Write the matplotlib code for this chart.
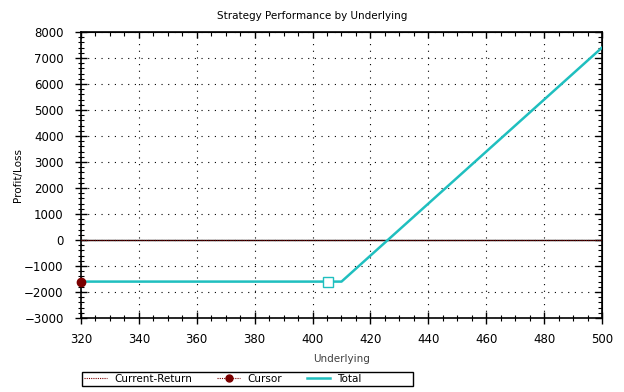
import numpy as np
import matplotlib.pyplot as plt
from matplotlib.ticker import MultipleLocator, NullFormatter
from matplotlib.lines import Line2D
from matplotlib.patches import Rectangle

# ── Data ──────────────────────────────────────────────
underlying     = [320, 410, 500]
total_pl       = [-1600, -1600, 7400]
current_x      = [320, 500]
current_return = [0, 0]
cursor_x       = [320]
cursor_y       = [-1600]
price_x        = [405.5]
price_y        = [-1600]

TEAL = "#1fbfbf"
DARK_RED = "#7a0000"

plt.rcParams["font.family"] = ["DejaVu Sans"]

fig = plt.figure(figsize=(6.24, 3.92), dpi=100)
ax = fig.add_axes([81 / 624, 1 - 318 / 392, 521 / 624, 286 / 392])

ax.set_xlim(320, 500)
ax.set_ylim(-3000, 8000)
ax.xaxis.set_major_locator(MultipleLocator(20))
ax.xaxis.set_minor_locator(MultipleLocator(5))
ax.yaxis.set_major_locator(MultipleLocator(1000))
ax.yaxis.set_minor_locator(MultipleLocator(200))

ax.grid(True, which="major", color="black", linestyle=(0, (1, 5)), linewidth=0.8)

ax.axhline(0, color="black", linewidth=1.0, zorder=2)
ax.plot(current_x, current_return, color=DARK_RED, linestyle=(0, (1, 1)),
        linewidth=0.8, zorder=3)
ax.plot(underlying, total_pl, color=TEAL, linewidth=1.8, zorder=4)
ax.plot(price_x, price_y, marker="s", markersize=6.5, markerfacecolor="white",
        markeredgecolor=TEAL, markeredgewidth=1.0, linestyle="none", zorder=5)
ax.plot(cursor_x, cursor_y, marker="o", markersize=6, color=DARK_RED,
        linestyle="none", zorder=6, clip_on=False)

for side in ["left", "bottom", "top", "right"]:
    ax.spines[side].set_linewidth(1.2)

# bottom / left: ticks crossing the axis, labelled
ax.tick_params(axis="both", which="major", direction="inout", length=8,
               width=1.0, labelsize=8.5)
ax.tick_params(axis="both", which="minor", direction="inout", length=5,
               width=0.8)
ax.tick_params(axis="x", which="major", pad=6.5)
ax.tick_params(axis="y", which="major", pad=8.5)

# top / right: inward ticks only, no labels
top = ax.secondary_xaxis("top")
top.xaxis.set_major_locator(MultipleLocator(20))
top.xaxis.set_minor_locator(MultipleLocator(5))
top.xaxis.set_major_formatter(NullFormatter())
top.tick_params(which="major", direction="in", length=4, width=1.0)
top.tick_params(which="minor", direction="in", length=3, width=0.8)

right = ax.secondary_yaxis("right")
right.yaxis.set_major_locator(MultipleLocator(1000))
right.yaxis.set_minor_locator(MultipleLocator(200))
right.yaxis.set_major_formatter(NullFormatter())
right.tick_params(which="major", direction="in", length=5, width=1.0)
right.tick_params(which="minor", direction="in", length=3, width=0.8)

fig.text(0.5, 1 - 16 / 392, "Strategy Performance by Underlying",
         fontsize=7.5, ha="center", va="center")
ax.set_xlabel("Underlying", fontsize=7.5, color="#404040", labelpad=6)
ax.set_ylabel("Profit/Loss", fontsize=7.5, labelpad=1)

handles = [
    Line2D([], [], color=DARK_RED, linestyle=(0, (1, 1)), linewidth=0.8),
    Line2D([], [], color=DARK_RED, linestyle=(0, (1, 1)), linewidth=0.8,
           marker="o", markersize=5),
    Line2D([], [], color=TEAL, linewidth=1.8),
]
labels = ["Current-Return", "Cursor", "Total"]
leg = fig.legend(handles, labels, ncol=3, fontsize=7.5,
                 bbox_to_anchor=(84 / 624, 1 - 379 / 392),
                 loc="center left", frameon=False,
                 borderpad=0, handlelength=2.2, handletextpad=0.7,
                 columnspacing=2.4, borderaxespad=0)
fig.add_artist(Rectangle((82 / 624, 1 - 386 / 392), 331 / 624, 14 / 392,
                         transform=fig.transFigure, fill=False,
                         edgecolor="black", linewidth=1.0))

fig.savefig("out.png", dpi=100)
